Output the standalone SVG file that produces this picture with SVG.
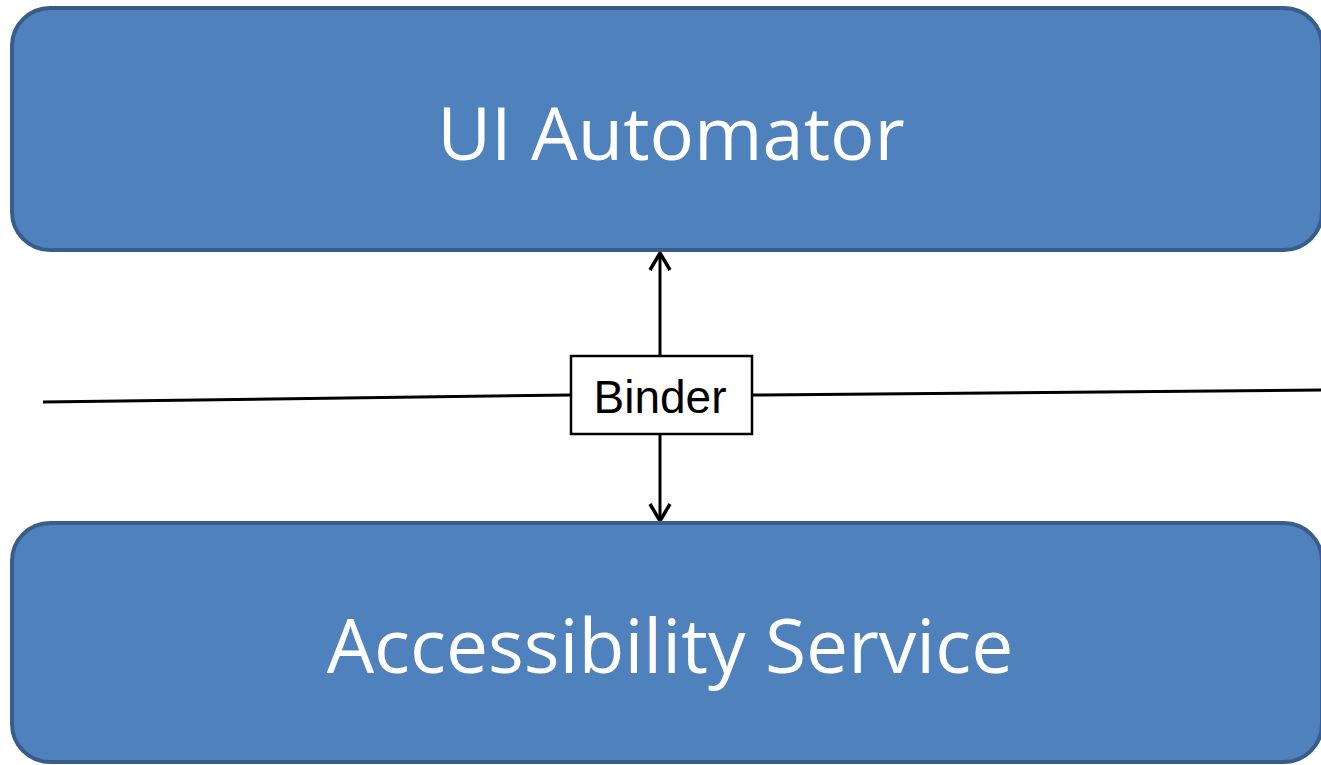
<svg xmlns="http://www.w3.org/2000/svg" width="1321" height="765" viewBox="0 0 1321 765">
<defs>
<style>
.blk{fill:#4f81bd;stroke:#385d8a;stroke-width:4}
.big{font-family:"Open Sans","Liberation Sans",sans-serif;font-size:74px;fill:#ffffff;text-anchor:middle}
.ln{stroke:#000;stroke-width:3;fill:none}
.lbl{font-family:"Liberation Sans",Arial,sans-serif;font-size:46px;fill:#000;text-anchor:middle}
</style>
<marker id="arr" viewBox="0 0 24 24" refX="21" refY="12" markerWidth="24" markerHeight="24" markerUnits="userSpaceOnUse" orient="auto">
<path d="M4,2 L21,12 L4,22" fill="none" stroke="#000" stroke-width="3.5"/>
</marker>
</defs>
<g id="connectors">
<line class="ln" x1="43" y1="402" x2="571" y2="395"/>
<line class="ln" x1="752" y1="395" x2="1321" y2="390"/>
<line class="ln" x1="660" y1="356" x2="660" y2="253" marker-end="url(#arr)"/>
<line class="ln" x1="660" y1="434" x2="660" y2="521" marker-end="url(#arr)"/>
</g>
<g id="ui-automator">
<rect class="blk" x="12" y="8" width="1310" height="242" rx="38"/>
<text class="big" x="671" y="160">UI Automator</text>
</g>
<g id="accessibility-service">
<rect class="blk" x="12" y="523" width="1310" height="239" rx="38"/>
<text class="big" x="670" y="673" style="font-size:75px">Accessibility Service</text>
</g>
<g id="binder">
<rect x="571" y="356" width="181" height="78" fill="#fff" stroke="#000" stroke-width="2.5"/>
<text class="lbl" x="660" y="413">Binder</text>
</g>
</svg>
